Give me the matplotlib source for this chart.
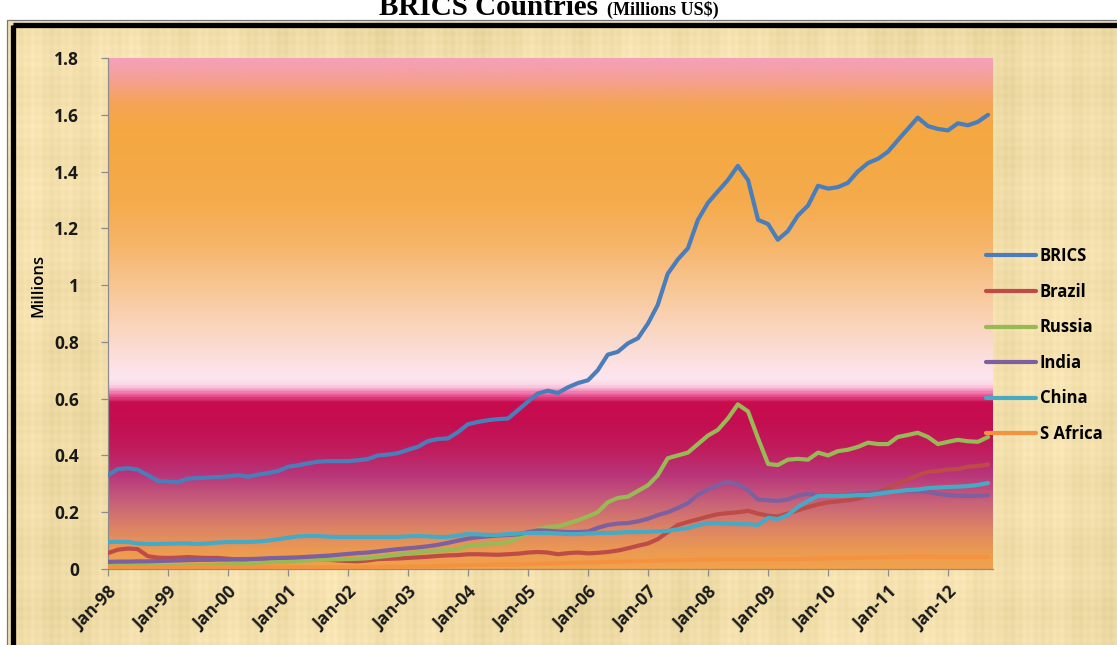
import numpy as np
import pandas as pd
import matplotlib
matplotlib.use('Agg')
import matplotlib.pyplot as plt
import matplotlib.dates as mdates
from matplotlib.colors import LinearSegmentedColormap
from matplotlib.patches import Rectangle

# reserves, millions of millions US$, one value every 2 months (Jan-98 .. Sep-12)
dates = pd.date_range('1998-01-01', periods=89, freq='2MS')

brics = [
    .330, .352, .355, .350, .330, .310,
    .308, .305, .318, .320, .322, .324,
    .326, .330, .325, .332, .338, .345,
    .360, .365, .372, .378, .380, .380,
    .380, .383, .387, .400, .403, .408,
    .420, .430, .450, .458, .460, .482,
    .510, .518, .524, .528, .530, .560,
    .590, .618, .628, .620, .640, .655,
    .665, .700, .755, .765, .795, .813,
    .865, .930, 1.04, 1.09, 1.13, 1.23,
    1.29, 1.33, 1.37, 1.42, 1.37, 1.23,
    1.215, 1.16, 1.19, 1.245, 1.28, 1.35,
    1.34, 1.345, 1.36, 1.40, 1.43, 1.445,
    1.47, 1.51, 1.55, 1.59, 1.56, 1.55,
    1.545, 1.57, 1.563, 1.575, 1.60,
]
brazil = [
    .056, .068, .072, .070, .045, .040,
    .039, .040, .042, .040, .039, .039,
    .036, .034, .030, .031, .032, .032,
    .033, .034, .035, .035, .033, .030,
    .028, .027, .030, .035, .036, .037,
    .039, .041, .043, .046, .048, .049,
    .052, .052, .051, .050, .052, .054,
    .058, .060, .058, .052, .056, .058,
    .055, .057, .060, .065, .073, .082,
    .090, .105, .130, .155, .166, .175,
    .185, .193, .197, .200, .205, .195,
    .188, .185, .195, .207, .218, .228,
    .235, .238, .242, .248, .258, .270,
    .285, .300, .315, .330, .342, .345,
    .350, .352, .360, .363, .368,
]
russia = [
    .015, .016, .015, .013, .012, .011,
    .011, .011, .012, .013, .014, .015,
    .016, .018, .020, .022, .024, .025,
    .026, .028, .030, .032, .033, .034,
    .035, .036, .038, .042, .046, .050,
    .055, .058, .062, .065, .067, .070,
    .082, .085, .087, .090, .094, .110,
    .125, .140, .148, .150, .160, .172,
    .185, .200, .235, .250, .255, .275,
    .295, .330, .390, .400, .410, .440,
    .470, .490, .530, .580, .555, .460,
    .370, .366, .385, .388, .385, .410,
    .400, .415, .420, .430, .445, .440,
    .440, .465, .472, .480, .465, .440,
    .448, .455, .450, .448, .465,
]
india = [
    .025, .026, .026, .027, .027, .028,
    .029, .030, .031, .032, .032, .033,
    .033, .035, .035, .036, .038, .039,
    .040, .041, .043, .045, .047, .050,
    .053, .056, .058, .062, .066, .070,
    .073, .076, .080, .085, .092, .100,
    .107, .112, .115, .118, .120, .122,
    .130, .136, .135, .132, .130, .130,
    .132, .145, .155, .160, .162, .168,
    .177, .190, .200, .215, .232, .262,
    .280, .295, .306, .298, .278, .245,
    .242, .240, .245, .258, .265, .260,
    .258, .260, .262, .265, .268, .270,
    .272, .274, .275, .275, .272, .265,
    .260, .258, .257, .258, .260,
]
china = [
    .095, .096, .095, .090, .088, .088,
    .089, .090, .090, .088, .090, .093,
    .095, .095, .095, .097, .100, .105,
    .110, .115, .116, .116, .114, .113,
    .113, .113, .113, .113, .113, .113,
    .115, .116, .115, .113, .113, .118,
    .123, .122, .120, .120, .123, .125,
    .127, .127, .127, .125, .123, .123,
    .125, .127, .127, .128, .130, .130,
    .131, .133, .134, .140, .144, .155,
    .162, .162, .160, .158, .158, .155,
    .180, .176, .190, .218, .240, .257,
    .257, .257, .258, .260, .260, .265,
    .270, .274, .278, .280, .285, .287,
    .289, .290, .292, .296, .303,
]
safrica = [
    .006, .006, .006, .006, .006, .006,
    .007, .007, .007, .007, .007, .007,
    .007, .007, .007, .007, .007, .007,
    .007, .007, .007, .007, .007, .007,
    .007, .007, .007, .007, .008, .008,
    .008, .009, .010, .011, .012, .013,
    .014, .014, .015, .016, .016, .016,
    .017, .018, .019, .020, .021, .022,
    .023, .024, .025, .026, .027, .028,
    .029, .030, .031, .031, .032, .033,
    .033, .034, .034, .034, .034, .034,
    .034, .035, .035, .035, .036, .037,
    .038, .039, .039, .040, .041, .041,
    .042, .043, .044, .044, .044, .043,
    .043, .042, .043, .043, .043,
]

series = [
    ('BRICS', brics, '#4a7ebb'),
    ('Brazil', brazil, '#be4b48'),
    ('Russia', russia, '#98b954'),
    ('India', india, '#7d60a0'),
    ('China', china, '#46aac5'),
    ('S Africa', safrica, '#f59240'),
]

ytick_vals = [0, 0.2, 0.4, 0.6, 0.8, 1.0, 1.2, 1.4, 1.6, 1.8]
ytick_labels = ['0', '0.2', '0.4', '0.6', '0.8', '1', '1.2', '1.4', '1.6', '1.8']
year_ticks = pd.date_range('1998-01-01', '2012-01-01', freq='YS')

W, H = 1117, 645
fig = plt.figure(figsize=(W / 100, H / 100), dpi=100)
fig.patch.set_facecolor('white')

# parchment background (faint fibre streaks)
bg = fig.add_axes([0, 0, 1, 1])
bg.set_axis_off()
yy, xx = np.mgrid[0:H, 0:W].astype(float)
tex = (0.008 * np.sin(xx * 0.83) + 0.010 * np.sin(xx * 0.19 + 1.3)
       + 0.008 * np.sin(xx * 0.061 + 0.4)
       + 0.006 * np.sin(yy * 0.71) + 0.008 * np.sin(yy * 0.097 + 2.1)
       + 0.012 * np.sin(xx * 0.011 + yy * 0.007))
base = np.array([0.945, 0.870, 0.665])
img = np.clip(base[None, None, :] + tex[:, :, None] * np.array([1.0, 1.0, 1.4]), 0, 1)
bg.imshow(img, extent=[0, W, H, 0], aspect='auto', interpolation='bilinear')
bg.set_xlim(0, W)
bg.set_ylim(H, 0)
bg.add_patch(Rectangle((0, 0), W, 20, color='white', zorder=2))
bg.add_patch(Rectangle((0, 0), 6, H, color='white', zorder=2))
bg.add_patch(Rectangle((7, 20), W + 50, H + 50, fill=False, ec='#777777', lw=0.9, zorder=3))
bg.add_patch(Rectangle((12.5, 24.5), W + 50, H + 50, fill=False, ec='black', lw=3.8, zorder=3))

fig.text(605 / W, 1 - 15 / H, 'BRICS Countries ', ha='right', va='baseline',
         family='Liberation Serif', weight='bold', fontsize=21)
fig.text(607 / W, 1 - 15 / H, '(Millions US$)', ha='left', va='baseline',
         family='Liberation Serif', weight='bold', fontsize=13)

# plot area
ax = fig.add_axes([108 / W, 76 / H, 885 / W, 511 / H])
ax.set_facecolor('none')

stops = [
    (0.00, '#f2a24a'), (0.06, '#eb9a52'), (0.14, '#dc8464'), (0.24, '#c65e7a'),
    (0.33, '#b8357a'), (0.42, '#c01c5c'), (0.52, '#c40e50'), (0.585, '#c80c4e'),
    (0.615, '#f064a2'), (0.645, '#fcd2e4'), (0.67, '#fde6f0'), (0.78, '#fbdcd4'),
    (0.95, '#f9cba0'), (1.15, '#f6b468'), (1.30, '#f5ab4c'), (1.55, '#f4a840'),
    (1.65, '#f5a45a'), (1.72, '#f5a08e'), (1.80, '#f5a0b8'),
]
cmap = LinearSegmentedColormap.from_list('bg', [(v / 1.8, c) for v, c in stops])
grad = cmap(np.linspace(0, 1, 600))[:, None, :]
x0 = mdates.date2num(pd.Timestamp('1998-01-01'))
x1 = mdates.date2num(pd.Timestamp('2012-10-01'))
ax.imshow(grad, extent=[x0, x1, 0, 1.8], origin='lower', aspect='auto', zorder=0)

for name, vals, col in series:
    ax.plot(dates, vals, color=col, lw=3.0, label=name, zorder=3, solid_capstyle='round')

ax.set_xlim(x0, x1)
ax.set_ylim(0, 1.8)
ax.set_yticks(ytick_vals)
ax.set_yticklabels(ytick_labels)
ax.set_xticks(year_ticks)
ax.xaxis.set_major_formatter(mdates.DateFormatter('%b-%y'))
for s in ['top', 'right']:
    ax.spines[s].set_visible(False)
for s in ['left', 'bottom']:
    ax.spines[s].set_color('#8c8c8c')
    ax.spines[s].set_linewidth(0.9)
ax.tick_params(axis='both', direction='out', length=5, color='#8c8c8c', width=0.9)
ax.tick_params(axis='y', pad=16)
ax.tick_params(axis='x', pad=5)
for lab in ax.get_yticklabels() + ax.get_xticklabels():
    lab.set_fontfamily('Open Sans')
    lab.set_fontweight('bold')
    lab.set_fontsize(12.5)
    lab.set_color('#1a1a1a')
for lab in ax.get_xticklabels():
    lab.set_rotation(45)
    lab.set_ha('right')
    lab.set_rotation_mode('anchor')

ax.set_ylabel('Millions', family='Open Sans', fontsize=12, weight='semibold')
ax.yaxis.set_label_coords(-62 / 885, 0.555)

fig.legend(loc='upper left', bbox_to_anchor=(978 / W, 1 - 239 / H), frameon=False,
           handlelength=3.0, handletextpad=0.2, labelspacing=1.05, borderpad=0,
           prop={'family': 'Open Sans', 'weight': 'bold', 'size': 12})

fig.savefig('out.png', dpi=100)
